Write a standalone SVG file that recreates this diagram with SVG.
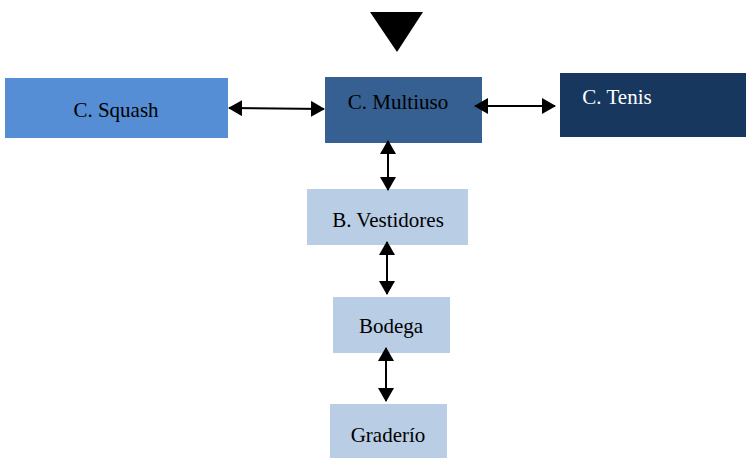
<svg xmlns="http://www.w3.org/2000/svg" width="746" height="458" viewBox="0 0 746 458">
<style>
.t{font-family:'Liberation Serif','Times New Roman',Times,serif;font-size:21px;fill:#000;text-anchor:middle}
.lt{fill:#b9cde5}
.c{stroke:#000;stroke-width:2;fill:none;marker-start:url(#a);marker-end:url(#a)}
</style>
<defs>
<marker id="a" viewBox="0 0 14 16" refX="13" refY="8" markerWidth="14" markerHeight="16" markerUnits="userSpaceOnUse" orient="auto-start-reverse">
<path d="M0,0L14,8L0,16Z" fill="#000"/>
</marker>
</defs>
<rect width="746" height="458" fill="#fff"/>
<polygon points="370,12 423,12 397,52" fill="#000"/>
<g id="squash"><rect x="5" y="78" width="223" height="60" fill="#558ed5"/><text class="t" x="116" y="117" font-family="Liberation Serif, serif">C. Squash</text></g>
<g id="multiuso"><rect x="325" y="77" width="157" height="66" fill="#366092"/><text class="t" x="398" y="109" font-family="Liberation Serif, serif">C. Multiuso</text></g>
<g id="tenis"><rect x="560" y="73" width="186" height="64" fill="#17375e"/><text class="t" x="617" y="104" font-family="Liberation Serif, serif" style="fill:#fff">C. Tenis</text></g>
<g id="vestidores"><rect class="lt" x="307" y="189" width="161" height="56"/><text class="t" x="388" y="227" font-family="Liberation Serif, serif">B. Vestidores</text></g>
<g id="bodega"><rect class="lt" x="333" y="297" width="117" height="56"/><text class="t" x="391" y="333" font-family="Liberation Serif, serif">Bodega</text></g>
<g id="graderio"><rect class="lt" x="330" y="404" width="117" height="54"/><text class="t" x="388" y="442" font-family="Liberation Serif, serif">Graderío</text></g>
<g id="connectors">
<line class="c" x1="229" y1="108" x2="324" y2="109"/>
<line class="c" x1="475" y1="106" x2="555" y2="106"/>
<line class="c" x1="388" y1="141" x2="388" y2="190"/>
<line class="c" x1="387" y1="242" x2="387" y2="294"/>
<line class="c" x1="386" y1="348" x2="386" y2="401"/>
</g>
</svg>
